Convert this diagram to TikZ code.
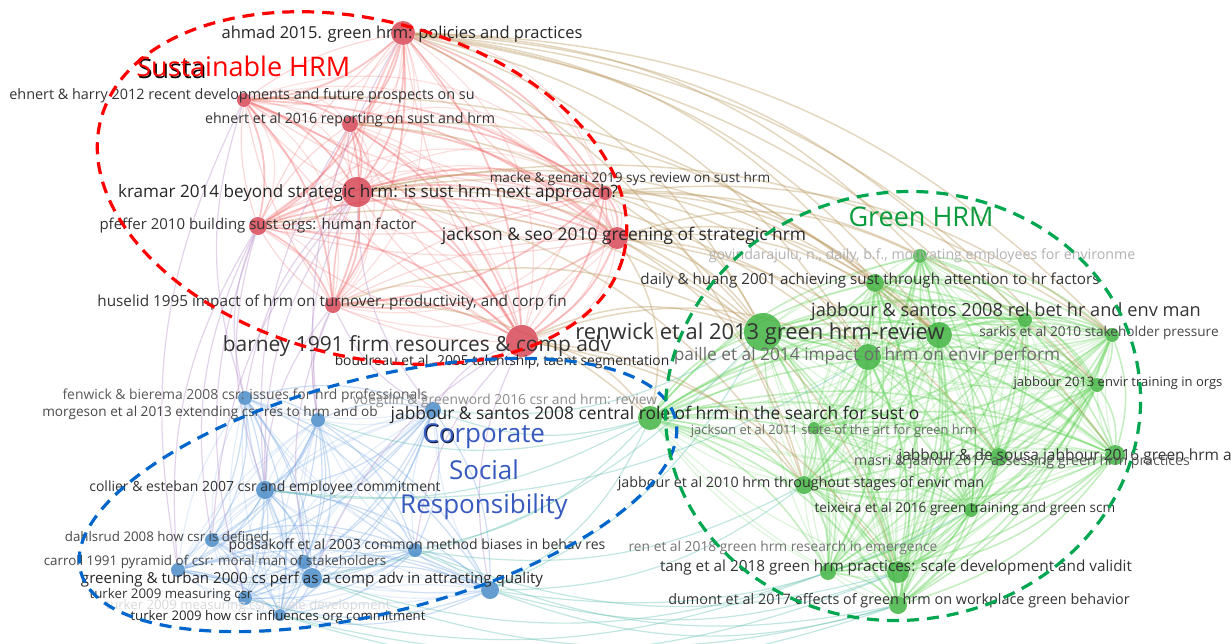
\documentclass[tikz,border=0pt]{standalone}
\usepackage{fontspec}
\setmainfont{Open Sans}
\usetikzlibrary{backgrounds}

\definecolor{redN}{RGB}{214,72,86}
\definecolor{greenN}{RGB}{66,180,66}
\definecolor{blueN}{RGB}{74,140,200}
\definecolor{redE}{RGB}{238,100,100}
\definecolor{greenE}{RGB}{100,210,90}
\definecolor{blueE}{RGB}{120,168,225}
\definecolor{brownE}{RGB}{185,150,90}
\definecolor{tealE}{RGB}{95,190,175}
\definecolor{purpE}{RGB}{180,140,200}
\definecolor{redD}{RGB}{255,0,0}
\definecolor{blueD}{RGB}{0,102,204}
\definecolor{greenD}{RGB}{0,166,80}
\definecolor{csrT}{RGB}{55,90,190}
\definecolor{ghrmT}{RGB}{10,155,60}

\newcommand\fsz[1]{\fontsize{#1}{#1}\selectfont}

\tikzset{
  vnode/.style={circle,inner sep=0pt,minimum size=#1pt},
  rnode/.style={vnode=#1,fill=redN,fill opacity=.85},
  gnode/.style={vnode=#1,fill=greenN,fill opacity=.85},
  bnode/.style={vnode=#1,fill=blueN,fill opacity=.85},
  lab/.style={inner sep=0pt,text=#1},
  edge/.style={line width=.6pt,draw=#1,opacity=.38},
  cluster/.style={line width=1.6pt,dash pattern=on 6pt off 4pt,draw=#1},
}

\begin{document}
\begin{tikzpicture}[x=0.5pt,y=-0.5pt]
\useasboundingbox (0,0) rectangle (1231,643);

% ---- red cluster (sustainable HRM) ----
\node[rnode=12] (ahmad)    at (403,33)  {};
\node[rnode=7]  (ehnertH)  at (244,100) {};
\node[rnode=8]  (ehnert16) at (350,124) {};
\node[rnode=15] (kramar)   at (357,192) {};
\node[rnode=9]  (pfeffer)  at (258,226) {};
\node[rnode=7]  (macke)    at (605,193) {};
\node[rnode=11] (jseo)     at (617,238) {};
\node[rnode=8]  (huselid)  at (333,305) {};
\node[rnode=16] (barney)   at (522,341) {};

% ---- blue cluster (CSR) ----
\node[bnode=7]  (fenwick)   at (245,398) {};
\node[bnode=7]  (morgeson)  at (318,420) {};
\node[bnode=8]  (voegtlin)  at (433,410) {};
\node[bnode=9]  (collier)   at (265,490) {};
\node[bnode=7]  (dahlsrud)  at (212,540) {};
\node[bnode=7]  (podsakoff) at (415,550) {};
\node[bnode=7]  (carroll)   at (304,562) {};
\node[bnode=7]  (pyramid)   at (178,570) {};
\node[bnode=10] (greening)  at (312,578) {};
\node[bnode=9]  (attract)   at (490,590) {};
\node[bnode=7]  (tmeas)     at (245,598) {};
\node[bnode=6]  (thow)      at (280,615) {};

% ---- green cluster (green HRM) ----
\node[gnode=12] (jcentral) at (650,418) {};
\node[gnode=7]  (govind)   at (920,256) {};
\node[gnode=9]  (daily)    at (875,283) {};
\node[gnode=19] (renwick)  at (763,332) {};
\node[gnode=13] (relbet)   at (939,335) {};
\node[gnode=13] (paille)   at (868,357) {};
\node[gnode=7]  (envtrain) at (1025,320) {};
\node[gnode=7]  (sarkis)   at (1112,335) {};
\node[gnode=7]  (jab13)    at (1097,385) {};
\node[gnode=6]  (jack11)   at (814,428) {};
\node[gnode=10] (desousa)  at (1115,455) {};
\node[gnode=9]  (masri)    at (999,457) {};
\node[gnode=9]  (jab10)    at (804,485) {};
\node[gnode=7]  (teix)     at (971,510) {};
\node[gnode=8]  (tang)     at (828,572) {};
\node[gnode=11] (tangb)    at (898,572) {};
\node[gnode=9]  (dumont)   at (898,605) {};

% ---- links ----
\begin{pgfonlayer}{background}
\foreach \a [count=\i] in {ahmad,ehnertH,ehnert16,kramar,pfeffer,macke,jseo,huselid,barney}
  \foreach \b [count=\j] in {ahmad,ehnertH,ehnert16,kramar,pfeffer,macke,jseo,huselid,barney}{
    \ifnum\j>\i
      \draw[edge=redE,line width=.9pt] (\a) to[bend left=18] (\b);
      \draw[edge=redE,opacity=.25] (\a) to[bend right=12] (\b);
      \draw[edge=redE,opacity=.2] (\a) to[bend left=34] (\b);
    \fi}
\foreach \a [count=\i] in {fenwick,morgeson,voegtlin,collier,dahlsrud,podsakoff,carroll,pyramid,greening,attract,tmeas,thow}
  \foreach \b [count=\j] in {fenwick,morgeson,voegtlin,collier,dahlsrud,podsakoff,carroll,pyramid,greening,attract,tmeas,thow}{
    \ifnum\j>\i
      \draw[edge=blueE] (\a) to[bend left=18] (\b);
      \draw[edge=blueE,opacity=.2] (\a) to[bend right=14] (\b);
    \fi}
\foreach \a [count=\i] in {jcentral,govind,daily,renwick,relbet,paille,envtrain,sarkis,jab13,jack11,desousa,masri,jab10,teix,tang,tangb,dumont}
  \foreach \b [count=\j] in {jcentral,govind,daily,renwick,relbet,paille,envtrain,sarkis,jab13,jack11,desousa,masri,jab10,teix,tang,tangb,dumont}{
    \ifnum\j>\i
      \draw[edge=greenE,line width=.8pt] (\a) to[bend left=18] (\b);
      \draw[edge=greenE,opacity=.22] (\a) to[bend right=12] (\b);
    \fi}
% red to green
\foreach \a/\b in {ahmad/renwick,ahmad/relbet,ahmad/paille,ahmad/sarkis,ahmad/jab13,ahmad/daily,ahmad/govind,ahmad/desousa,ahmad/envtrain,
  kramar/renwick,kramar/relbet,kramar/paille,kramar/daily,kramar/sarkis,macke/renwick,macke/relbet,macke/daily,macke/sarkis,macke/jab13,
  jseo/renwick,jseo/relbet,jseo/paille,jseo/jab10,jseo/jcentral,jseo/tangb,jseo/masri,barney/jcentral,barney/renwick,barney/jab10,
  barney/tangb,ehnert16/renwick,ehnert16/relbet,ehnertH/relbet,pfeffer/renwick,huselid/jcentral,huselid/renwick,
  jseo/daily,jseo/govind,macke/paille,kramar/jab10,barney/paille,ahmad/jab10}
  \draw[edge=brownE,line width=.75pt] (\a) to[bend left=22] (\b);
% red to blue
\foreach \a/\b in {fenwick/pfeffer,fenwick/kramar,morgeson/kramar,voegtlin/barney,collier/huselid,collier/pfeffer,voegtlin/kramar,
  greening/barney,podsakoff/barney,morgeson/ahmad,dahlsrud/pfeffer,fenwick/ehnertH,pyramid/pfeffer,collier/ehnert16,
  pyramid/ehnertH,tmeas/pfeffer,dahlsrud/kramar,collier/kramar,morgeson/huselid,voegtlin/huselid,greening/huselid,attract/barney}
  \draw[edge=purpE] (\a) to[bend left=18] (\b);
% blue to green
\foreach \a/\b in {collier/jcentral,podsakoff/jcentral,attract/jcentral,attract/renwick,greening/renwick,podsakoff/jab10,attract/jab10,
  attract/tangb,voegtlin/jcentral,voegtlin/renwick,morgeson/jcentral,greening/tang,attract/dumont,podsakoff/tangb,attract/teix,
  thow/dumont,tmeas/tang,collier/paille,greening/dumont,podsakoff/dumont,thow/tangb}
  \draw[edge=tealE] (\a) to[bend right=18] (\b);
\end{pgfonlayer}

% ---- labels ----
\node[lab=black!85,font=\fsz{8.25}] (l-ahmad) at (402,34) {ahmad 2015. green hrm: policies and practices};
\node[lab=black!80,font=\fsz{7.2}] (l-ehnertH) at (242,96) {ehnert \& harry 2012 recent developments and future prospects on su};
\node[lab=black!80,font=\fsz{7.1}] (l-ehnert16) at (350,120) {ehnert et al 2016 reporting on sust and hrm};
\node[lab=black!85,font=\fsz{8.55}] (l-kramar) at (368,193) {kramar 2014 beyond strategic hrm: is sust hrm next approach?};
\node[lab=black!80,font=\fsz{7.5}] (l-pfeffer) at (258,226) {pfeffer 2010 building sust orgs: human factor};
\node[lab=black!80,font=\fsz{6.8}] (l-macke) at (630,179) {macke \& genari 2019 sys review on sust hrm};
\node[lab=black!85,font=\fsz{8.7}] (l-jseo) at (624,236) {jackson \& seo 2010 greening of strategic hrm};
\node[lab=black!80,font=\fsz{7.65}] (l-huselid) at (332,302) {huselid 1995 impact of hrm on turnover, productivity, and corp fin};
\node[lab=black!80,font=\fsz{10.45}] (l-barney) at (417,346) {barney 1991 firm resources \& comp adv};
\node[lab=black!85,font=\fsz{6.9}] (l-boudreau) at (502,362) {boudreau et al. 2005 talentship, taent segmentation};

\node[lab=black!65,font=\fsz{6.95}] (l-fenwick) at (245,396) {fenwick \& bierema 2008 csr: issues for hrd professionals};
\node[lab=black!72,font=\fsz{6.8}] (l-morgeson) at (210,413) {morgeson et al 2013 extending csr res to hrm and ob};
\node[lab=black!45,font=\fsz{6.9}] (l-voegtlin) at (505,401) {voegtlin \& greenword 2016 csr and hrm: review};
\node[lab=black!85,font=\fsz{8.7}] (l-jcentral) at (655,415) {jabbour \& santos 2008 central role of hrm in the search for sust o};
\node[lab=black!80,font=\fsz{7}] (l-collier) at (265,488) {collier \& esteban 2007 csr and employee commitment};
\node[lab=black!72,font=\fsz{6.65}] (l-dahlsrud) at (167,536) {dahlsrud 2008 how csr is defined};
\node[lab=black!80,font=\fsz{7}] (l-podsakoff) at (417,546) {podsakoff et al 2003 common method biases in behav res};
\node[lab=black!72,font=\fsz{6.7}] (l-carroll) at (215,562) {carroll 1991 pyramid of csr: moral man of stakeholders};
\node[lab=black!85,font=\fsz{7.55}] (l-greening) at (312,580) {greening \& turban 2000 cs perf as a comp adv in attracting quality};
\node[lab=black!15,font=\fsz{6.6}] (l-tscale) at (248,606) {turker 2009 measuring csr: scale development};
\node[lab=black!80,font=\fsz{6.65}] (l-tmeas) at (171,595) {turker 2009 measuring csr};
\node[lab=black!85,font=\fsz{6.6}] (l-thow) at (278,617) {turker 2009 how csr influences org commitment};

\node[lab=black!30,font=\fsz{7.1}] (l-govind) at (922,256) {govindarajulu, n., daily, b.f., motivating employees for environme};
\node[lab=black!80,font=\fsz{7.6}] (l-daily) at (870,281) {daily \& huang 2001 achieving sust through attention to hr factors};
\node[lab=black!80,font=\fsz{9.1}] (l-relbet) at (1006,312) {jabbour \& santos 2008 rel bet hr and env man};
\node[lab=black!80,font=\fsz{10.95}] (l-renwick) at (760,334) {renwick et al 2013 green hrm-review};
\node[lab=black!72,font=\fsz{6.8}] (l-sarkis) at (1099,333) {sarkis et al 2010 stakeholder pressure};
\node[lab=black!58,font=\fsz{8.65}] (l-paille) at (867,356) {paille et al 2014 impact of hrm on envir perform};
\node[lab=black!80,font=\fsz{6.5}] (l-jab13) at (1118,383) {jabbour 2013 envir training in orgs};
\node[lab=black!58,font=\fsz{6.45}] (l-jack11) at (834,431) {jackson et al 2011 state of the art for green hrm};
\node[lab=black!80,font=\fsz{7.75},anchor=west] (l-desousa) at (898,456) {jabbour \& de sousa jabbour 2016 green hrm a};
\node[lab=black!65,font=\fsz{7.1}] (l-masri) at (1022,462) {masri \& jaaron 2017 assessing green hrm practices};
\node[lab=black!80,font=\fsz{7.15}] (l-jab10) at (801,484) {jabbour et al 2010 hrm throughout stages of envir man};
\node[lab=black!80,font=\fsz{6.8}] (l-teix) at (965,509) {teixeira et al 2016 green training and green scm};
\node[lab=black!55,font=\fsz{6.9}] (l-ren) at (783,548) {ren et al 2018 green hrm research in emergence};
\node[lab=black!80,font=\fsz{7.65}] (l-tang) at (896,568) {tang et al 2018 green hrm practices: scale development and validit};
\node[lab=black!80,font=\fsz{7.2}] (l-dumont) at (899,601) {dumont et al 2017 effects of green hrm on workplace green behavior};

% ---- cluster titles ----
\node[lab=black,font=\fsz{13.5},anchor=base west] (t-sust-s) at (137.5,78) {Susta};
\node[lab=redD,font=\fsz{13.5},anchor=base west] (t-sust) at (136,76.5) {Sustainable HRM};
\node[lab=ghrmT,font=\fsz{13.5}] (t-green) at (921,217) {Green HRM};
\node[lab=black!80!csrT,font=\fsz{13},anchor=base west] (t-corp-s) at (423,443) {Co};
\node[lab=csrT,font=\fsz{13},anchor=base west] (t-corp) at (422,442) {Corporate};
\node[lab=csrT,font=\fsz{13}] (t-social) at (484,470) {Social};
\node[lab=csrT,font=\fsz{13}] (t-resp) at (484,507) {Responsibility};

% ---- cluster outlines ----
\draw[cluster=redD,rotate around={-14.6:(362,188)}] (362,188) ellipse [x radius=135pt,y radius=84pt];
\draw[cluster=blueD,rotate around={14.4:(378,495)}] (378,495) ellipse [x radius=153.5pt,y radius=58.5pt];
\draw[cluster=greenD,rotate around={8:(903,406)}] (903,406) ellipse [x radius=119pt,y radius=107pt];
\end{tikzpicture}
\end{document}
